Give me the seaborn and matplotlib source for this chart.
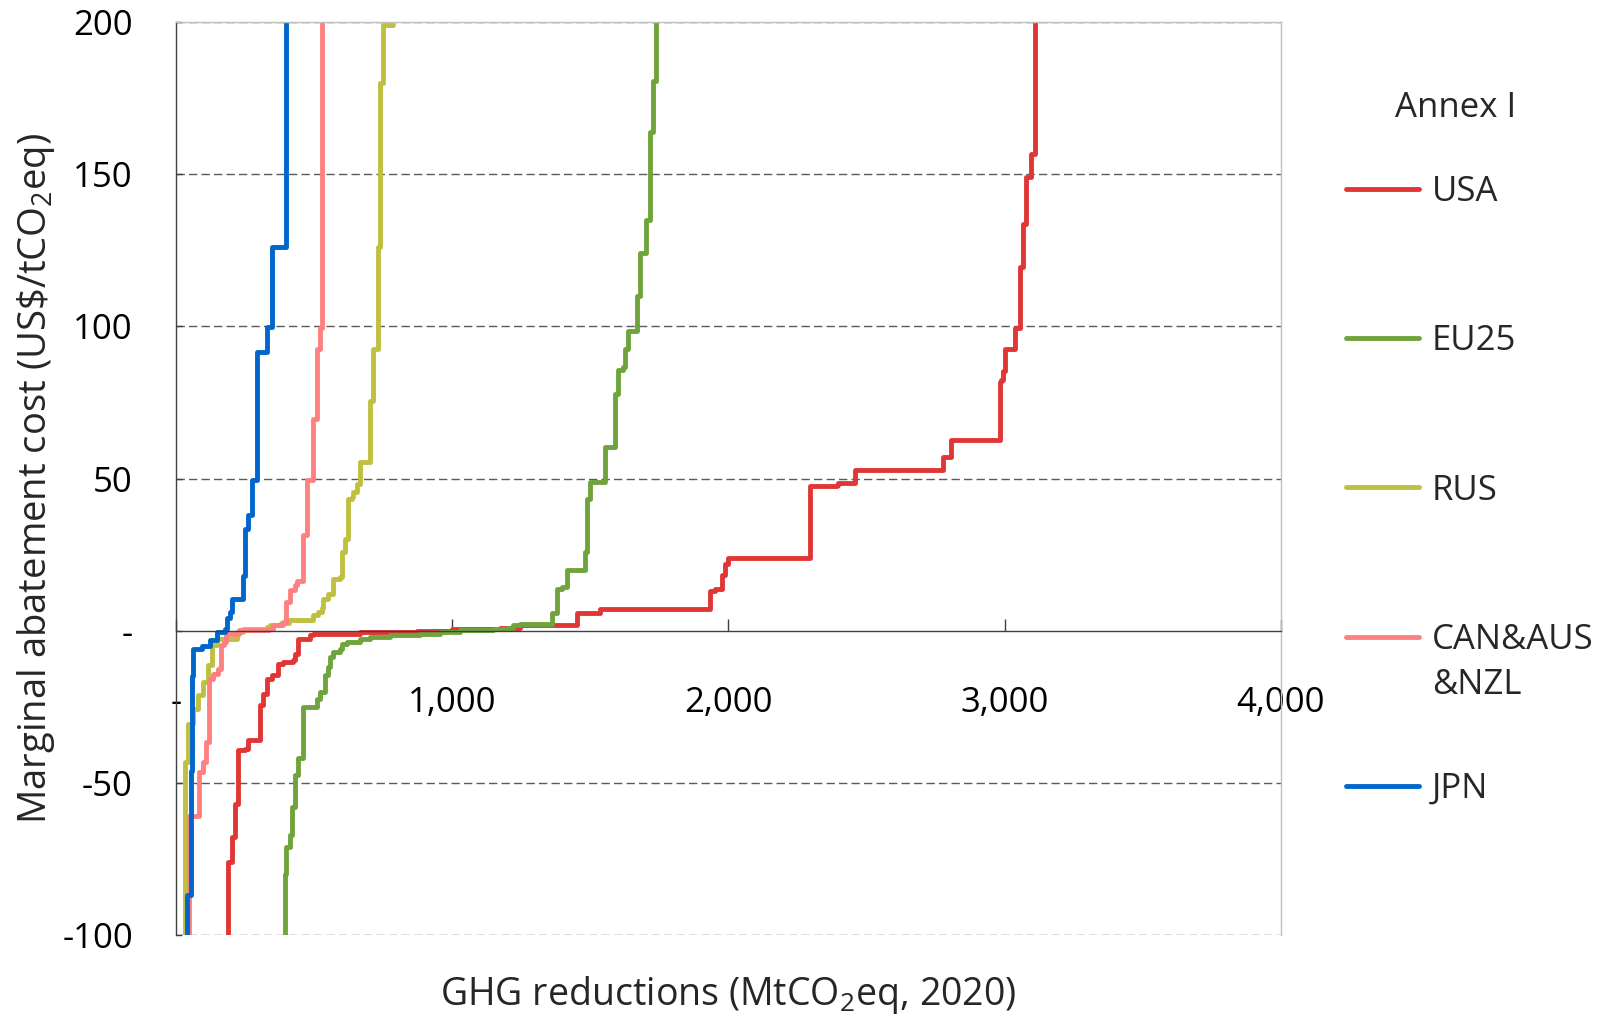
import matplotlib
matplotlib.use("Agg")
import matplotlib.pyplot as plt
import pandas as pd
import seaborn as sns

# ---------------- data (cumulative reduction MtCO2eq, marginal cost US$/tCO2eq) ----------------
regions = ["USA", "EU25", "RUS", "CAN&AUS&NZL", "JPN"]
colors = ["#E03636", "#6FA33C", "#C0C040", "#FF8080", "#0066CC"]

usa_x = [189, 189, 201, 213, 226, 250, 262, 304, 316, 328, 347, 370, 388, 425, 431, 443, 485, 497,
         666, 871, 1000, 1173, 1245, 1450, 1535, 1878, 1933, 1951, 1975, 1987, 1999, 2295, 2391,
         2397, 2458, 2777, 2807, 2982, 2988, 2994, 3000, 3036, 3054, 3066, 3078, 3096, 3108]
usa_y = [-130, -76, -67.8, -56.8, -39.3, -38.8, -36, -24.5, -20.7, -15.8, -14.7, -10.9, -10.3, -9.8,
         -7.6, -2.6, -1.5, -1.0, -0.4, 0.0, 0.5, 1.0, 1.9, 5.7, 7.0, 7.2, 13.1, 13.7, 18.2, 21.8,
         23.9, 47.4, 47.7, 48.5, 52.8, 57.1, 62.6, 81.8, 82.5, 85.2, 92.5, 99.3, 119.6, 133.7,
         149.1, 156.5, 210]

eu_x = [394, 394, 400, 412, 419, 431, 443, 461, 509, 521, 539, 551, 557, 569, 594, 600, 618, 666,
        702, 775, 883, 955, 1028, 1148, 1197, 1221, 1245, 1360, 1378, 1396, 1414, 1480, 1486, 1498,
        1553, 1589, 1601, 1619, 1625, 1637, 1667, 1679, 1703, 1715, 1727, 1739]
eu_y = [-130, -80, -71, -67.3, -58, -47.5, -42, -25, -22.3, -20.2, -14.7, -12, -8.7, -7, -5.9,
        -4.5, -3.7, -2.6, -2.1, -1.5, -1.0, -0.4, 0.1, 0.5, 1.0, 1.8, 2.3, 5.7, 13.7, 14.4, 19.8,
        25.9, 43.4, 48.8, 60.2, 77.7, 85.8, 86.5, 92.5, 98.6, 110, 124.2, 135, 163.9, 180.7, 210]

rus_x = [33, 33, 45, 63, 81, 99, 117, 129, 147, 220, 244, 328, 340, 380, 410, 497, 515, 527, 533,
         551, 569, 594, 600, 612, 624, 636, 642, 654, 666, 702, 714, 732, 738, 750, 787]
rus_y = [-130, -43, -30.6, -25.6, -21.3, -16.8, -11.4, -4.8, -2.6, -0.4, 0.7, 1.2, 1.8, 2.6, 3.4,
         5.0, 6.2, 7.3, 10.5, 12.2, 17.1, 17.6, 25.8, 30.2, 43.4, 43.9, 45.6, 48.3, 55.4, 75.5,
         92.7, 126, 180, 199, 199]

can_x = [48, 48, 84.5, 96.5, 108.6, 120.6, 132.7, 150.8, 162.8, 174.9, 181, 229, 338, 350, 386,
         398, 400, 413, 431, 437, 461, 473, 497, 509, 521, 527]
can_y = [-130, -61, -46.4, -43.2, -36.6, -15.8, -14.1, -12.5, -4.8, -3.7, -1, 0.1, 0.66, 1.76,
         2.85, 4, 9.4, 13.3, 15, 16.2, 31.3, 49.4, 69.7, 92.7, 99.3, 210]

jpn_x = [39, 39, 53, 57, 63, 93, 123, 147, 177, 183, 195, 202, 244, 250, 262, 274, 292, 328, 348, 398]
jpn_y = [-130, -87, -46, -15, -6, -5, -3, -0.5, 0.7, 4, 6, 10.5, 18, 33.5, 38, 49.4, 91.6, 99.8,
         126, 210]

x_ticks = [0, 1000, 2000, 3000, 4000]
x_ticklabels = ["-", "1,000", "2,000", "3,000", "4,000"]
y_ticks = [-100, -50, 0, 50, 100, 150, 200]
y_ticklabels = ["-100", "-50", "-", "50", "100", "150", "200"]

# ---------------- build table ----------------
series_x = [usa_x, eu_x, rus_x, can_x, jpn_x]
series_y = [usa_y, eu_y, rus_y, can_y, jpn_y]
frames = []
for name, xs, ys in zip(regions, series_x, series_y):
    frames.append(pd.DataFrame({"region": name, "reduction": xs, "cost": ys}))
df = pd.concat(frames, ignore_index=True)
palette = dict(zip(regions, colors))

# ---------------- style ----------------
sns.set_style("white")
plt.rcParams["font.family"] = ["Open Sans", "DejaVu Sans"]
plt.rcParams["mathtext.fontset"] = "custom"
plt.rcParams["mathtext.rm"] = "Open Sans"
plt.rcParams["mathtext.it"] = "Open Sans"
plt.rcParams["mathtext.default"] = "regular"

FS = 25
fig = plt.figure(figsize=(16.08, 10.16), dpi=100)
ax = fig.add_axes([176 / 1608, 1 - 935 / 1016, (1281 - 176) / 1608, (935 - 22) / 1016])

sns.lineplot(data=df, x="reduction", y="cost", hue="region", hue_order=regions,
             palette=palette, sort=False, estimator=None, drawstyle="steps-post",
             linewidth=3.5, ax=ax)

ax.set_xlim(0, 4000)
ax.set_ylim(-100, 200)

# spines
ax.spines["bottom"].set_position(("data", 0))
ax.spines["bottom"].set_color("#404040")
ax.spines["bottom"].set_linewidth(1.0)
ax.spines["left"].set_color("#404040")
ax.spines["left"].set_linewidth(1.0)
for s in ("top", "right"):
    ax.spines[s].set_color("#BFBFBF")
    ax.spines[s].set_linewidth(1.0)

# grid
ax.set_axisbelow(True)
ax.yaxis.grid(True, linestyle=(0, (6, 3)), color="#5A5A5A", linewidth=1.0)
ax.xaxis.grid(False)

# ticks
ax.set_xticks(x_ticks)
ax.set_xticklabels(x_ticklabels)
ax.set_yticks(y_ticks)
ax.set_yticklabels(y_ticklabels)
ax.tick_params(axis="x", direction="in", length=9, width=1, color="#404040",
               pad=39.5, labelsize=FS, labelcolor="black", bottom=True)
ax.tick_params(axis="y", direction="in", length=4, width=1, color="#404040",
               pad=31, labelsize=FS, labelcolor="black", left=True)
for gl, v in zip(ax.yaxis.get_gridlines(), y_ticks):
    if v == 0:
        gl.set_visible(False)

# labels
ax.set_xlabel(r"GHG reductions (MtCO$_2$eq, 2020)", fontsize=27)
ax.set_ylabel(r"Marginal abatement cost (US\$/tCO$_2$eq)", fontsize=27.5)
ax.xaxis.set_label_coords(0.5, -0.043)
ax.yaxis.set_label_coords(-0.108, 0.5)

# legend
sns.move_legend(ax, "upper left", bbox_to_anchor=(1346 / 1608, 1 - 175 / 1016),
                bbox_transform=fig.transFigure, title=None, frameon=False, fontsize=FS,
                labelspacing=3.32, handlelength=2.1, handletextpad=0.37,
                borderpad=0, borderaxespad=0)
leg = ax.get_legend()
for h in leg.get_lines():
    h.set_linewidth(3.5)
texts = leg.get_texts()
texts[3].set_text("CAN&AUS")
fig.text(1456 / 1608, 1 - 108 / 1016, "Annex I", ha="center", va="center", fontsize=FS)

fig.canvas.draw()
bb = texts[3].get_window_extent()
fig.text(bb.x0 / fig.bbox.width, (bb.y0 - 11) / fig.bbox.height, "&NZL",
         ha="left", va="top", fontsize=FS)

fig.savefig("out.png", dpi=100)
